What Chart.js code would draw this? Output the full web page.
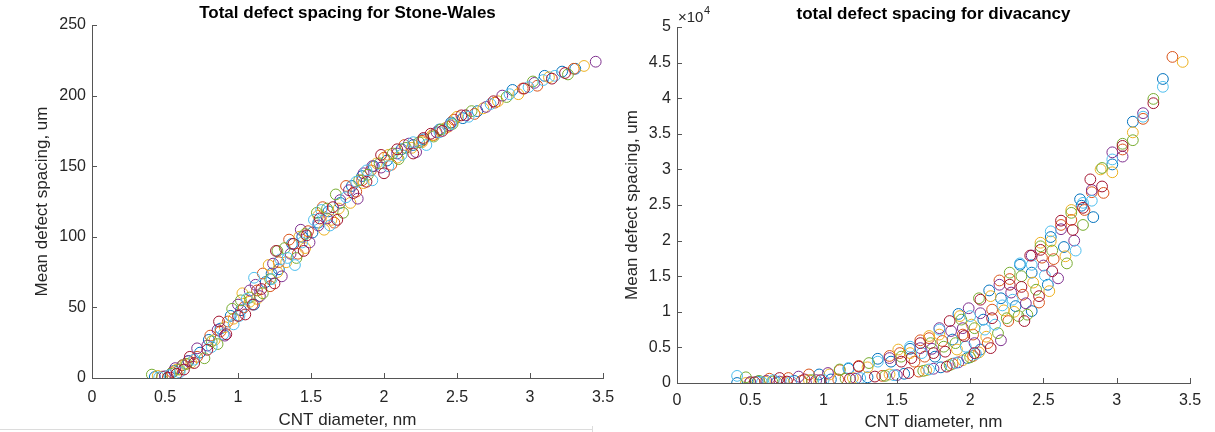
<!DOCTYPE html>
<html>
<head>
<meta charset="utf-8">
<title>Total defect spacing</title>
<script src="https://cdn.jsdelivr.net/npm/chart.js@4.4.0/dist/chart.umd.min.js"></script>
<style>
  html, body { margin: 0; padding: 0; background: #ffffff; }
  body { width: 1215px; height: 432px; position: relative; overflow: hidden; }
  canvas { position: absolute; top: 0; }
  #swChart { left: 0; }
  #dvChart { left: 590px; }
  .frame-h { position: absolute; left: 0; top: 429px; width: 592px; height: 0; border-top: 1px solid #dcdcdc; }
  .frame-v { position: absolute; left: 592px; top: 426px; width: 0; height: 6px; border-left: 1px solid #dcdcdc; }
</style>
</head>
<body>
<canvas id="swChart" width="640" height="432"></canvas>
<canvas id="dvChart" width="625" height="432"></canvas>
<div class="frame-h"></div>
<div class="frame-v"></div>
<script>
// ---- tick labels ----
const xTickLabels = ['0', '0.5', '1', '1.5', '2', '2.5', '3', '3.5'];
const swTickLabels = ['0', '50', '100', '150', '200', '250'];
const dvTickLabels = ['0', '0.5', '1', '1.5', '2', '2.5', '3', '3.5', '4', '4.5', '5'];

// ---- Stone-Wales: [diameter nm, mean spacing um] ----
const swBlue = [[0.43,0.7],[0.56,5],[0.62,9],[0.66,12],[0.74,18],[0.80,27],[0.88,35],[0.95,44],[1.02,48],[1.11,52],[1.19,68],[1.23,74],[1.28,77],[1.37,95],[1.44,100],[1.51,103],[1.55,110],[1.62,118],[1.70,124],[1.78,136],[1.85,143],[1.93,150],[2.02,154],[2.12,162],[2.20,165],[2.27,169],[2.38,176],[2.46,181],[2.54,184],[2.64,189],[2.88,204],[3.10,214],[3.22,217],[3.31,219]];
const swOrange = [[0.48,1],[0.55,4],[0.62,9],[0.72,15],[0.81,30],[0.88,33],[0.93,40],[1.04,50],[1.13,62],[1.17,74],[1.22,65],[1.28,82],[1.35,98],[1.41,88],[1.48,104],[1.58,121],[1.66,110],[1.74,136],[1.81,132],[1.85,140],[1.91,147],[2.00,156],[2.05,151],[2.14,165],[2.26,168],[2.34,172],[2.44,178],[2.48,183],[2.56,186],[2.62,187],[2.76,195],[2.95,205],[3.05,207],[3.30,219]];
const swYellow = [[0.45,1.5],[0.58,6],[0.64,10],[0.68,11],[0.84,27],[0.91,36],[0.97,42],[1.03,60],[1.08,54],[1.13,56],[1.21,80],[1.27,75],[1.33,82],[1.42,100],[1.46,92],[1.55,115],[1.59,105],[1.64,112],[1.69,120],[1.77,124],[1.86,138],[1.95,152],[2.03,158],[2.09,156],[2.19,163],[2.26,167],[2.33,172],[2.42,177],[2.50,185],[2.68,191],[2.78,196],[2.92,201],[3.13,213],[3.37,221]];
const swPurple = [[0.50,1.2],[0.57,7],[0.66,12],[0.72,21],[0.79,23],[0.86,34],[0.91,30],[1.00,52],[1.08,62],[1.12,66],[1.15,58],[1.24,81],[1.30,72],[1.36,88],[1.43,105],[1.49,96],[1.55,108],[1.61,113],[1.70,126],[1.76,133],[1.82,127],[1.86,145],[1.92,150],[1.98,149],[2.09,159],[2.17,166],[2.22,160],[2.36,174],[2.45,179],[2.56,186],[2.70,192],[2.81,200],[3.03,209],[3.45,224]];
const swGreen = [[0.41,2.4],[0.54,3],[0.60,6],[0.65,10],[0.77,14],[0.82,26],[0.86,24],[0.96,49],[1.02,55],[1.08,57],[1.17,60],[1.22,70],[1.27,90],[1.32,92],[1.40,85],[1.46,102],[1.54,117],[1.61,120],[1.67,130],[1.72,117],[1.83,140],[1.89,144],[1.97,152],[2.06,159],[2.10,155],[2.15,163],[2.24,167],[2.34,171],[2.39,176],[2.47,180],[2.60,189],[2.84,199],[3.02,210],[3.26,215]];
const swLightBlue = [[0.46,0.5],[0.53,2],[0.60,4],[0.70,13],[0.82,22],[0.90,31],[0.97,38],[1.01,44],[1.06,56],[1.11,71],[1.23,70],[1.29,84],[1.34,85],[1.39,80],[1.44,96],[1.52,112],[1.57,119],[1.63,108],[1.74,128],[1.81,139],[1.88,147],[1.92,140],[2.03,150],[2.12,158],[2.20,167],[2.29,165],[2.38,174],[2.46,180],[2.58,185],[2.73,194],[2.86,201],[2.99,206],[3.09,211],[3.17,214]];
const swDarkRed = [[0.52,0.3],[0.58,3],[0.63,6],[0.67,15],[0.70,10.6],[0.79,20],[0.87,40],[0.92,31],[1.00,44],[1.05,45],[1.10,52],[1.16,63],[1.26,90],[1.25,67],[1.38,95],[1.45,90],[1.47,101],[1.56,113],[1.65,121],[1.68,112],[1.79,131],[1.88,139],[1.98,158],[2.00,145],[2.09,162],[2.20,159],[2.27,170],[2.32,173],[2.40,175],[2.53,186],[2.75,196],[2.96,205],[3.15,212],[3.24,216]];

// ---- divacancy: [diameter nm, mean spacing um] ----
const dvBlue = [[0.41,0],[0.55,200],[0.68,100],[0.80,300],[0.97,1200],[1.05,500],[1.17,2000],[1.30,800],[1.37,3400],[1.46,3000],[1.55,1300],[1.59,4800],[1.76,3700],[1.80,2200],[1.88,6100],[1.92,9700],[1.98,3500],[2.07,4700],[2.09,8900],[2.13,13000],[2.21,11900],[2.31,10800],[2.34,16600],[2.42,10100],[2.42,15500],[2.53,13800],[2.55,20500],[2.64,19100],[2.75,25800],[2.76,24900],[2.84,23300],[2.97,30700],[3.11,36700],[3.315,42700]];
const dvOrange = [[0.50,100],[0.63,600],[0.76,700],[0.85,300],[0.90,1200],[1.10,500],[1.11,1800],[1.24,2400],[1.40,1000],[1.45,3800],[1.52,4200],[1.62,3000],[1.65,1600],[1.66,6000],[1.69,3700],[1.72,6300],[1.81,5900],[1.88,2700],[1.95,6800],[2.02,6800],[2.02,3800],[2.12,5600],[2.15,10300],[2.20,14400],[2.26,8700],[2.27,14600],[2.36,12400],[2.47,11300],[2.49,17600],[2.57,17400],[2.62,22200],[2.69,22900],[2.78,24300],[2.83,26800],[2.91,26700],[3.04,32800],[3.18,37100],[3.38,45800]];
const dvYellow = [[0.47,0],[0.60,200],[0.73,100],[0.90,400],[1.04,1200],[1.20,700],[1.30,2200],[1.45,1200],[1.51,4700],[1.59,4200],[1.70,1800],[1.72,6600],[1.79,6800],[1.91,4700],[1.93,9400],[1.95,3200],[2.01,8200],[2.06,4300],[2.11,6500],[2.14,12200],[2.23,10200],[2.30,10000],[2.43,14100],[2.48,19700],[2.54,12900],[2.55,19900],[2.65,17800],[2.69,24300],[2.89,30000],[2.97,29600],[3.11,35200],[3.45,45100]];
const dvPurple = [[0.50,100],[0.61,300],[0.70,200],[0.83,900],[0.95,400],[1.03,1400],[1.22,600],[1.45,3500],[1.50,1100],[1.66,4900],[1.74,4800],[1.75,2000],[1.79,7700],[1.87,7300],[1.92,2900],[1.95,7700],[1.99,10500],[2.03,5600],[2.07,9800],[2.20,13800],[2.21,6000],[2.28,12700],[2.38,11200],[2.42,17900],[2.50,16500],[2.60,14700],[2.62,21600],[2.71,20000],[2.83,27100],[2.97,32400],[3.04,31800],[3.18,37900]];
const dvGreen = [[0.47,800],[0.56,300],[0.65,200],[0.92,400],[1.11,1900],[1.15,600],[1.31,2800],[1.42,1000],[1.53,3700],[1.68,1700],[1.73,5600],[1.82,5100],[1.86,2500],[1.90,5600],[1.94,8900],[2.00,3600],[2.03,7700],[2.06,11900],[2.19,7000],[2.25,9100],[2.27,15500],[2.33,9400],[2.35,15000],[2.39,9600],[2.45,13100],[2.48,19200],[2.56,18600],[2.66,16800],[2.69,23900],[2.77,22200],[2.90,30200],[3.04,33600],[3.11,34100],[3.25,39900]];
const dvLightBlue = [[0.41,1000],[0.58,100],[0.66,400],[0.78,200],[1.00,400],[1.17,2100],[1.25,700],[1.37,3000],[1.48,1100],[1.59,5100],[1.67,4200],[1.72,1900],[1.79,7500],[1.90,2800],[1.97,5100],[2.00,9400],[2.04,4100],[2.10,7500],[2.17,8200],[2.22,10900],[2.29,11700],[2.34,16800],[2.42,16600],[2.51,15100],[2.55,21300],[2.72,18600],[2.77,25300],[2.83,25600],[2.97,31400],[3.18,37400],[3.315,41600]];
const dvDarkRed = [[0.53,100],[0.70,700],[0.75,200],[0.87,500],[0.98,400],[1.18,600],[1.24,2300],[1.35,900],[1.53,3000],[1.58,1400],[1.60,3500],[1.66,5600],[1.75,4200],[1.83,4400],[1.84,2300],[1.86,8700],[1.96,6600],[2.03,4200],[2.07,11700],[2.14,4900],[2.15,9100],[2.27,13800],[2.35,13500],[2.37,8700],[2.41,17900],[2.47,12200],[2.48,18700],[2.56,15700],[2.62,22800],[2.70,21500],[2.77,24600],[2.82,28600],[2.90,27600],[3.04,33300],[3.25,39300]];

// ---- styling ----
const palette = ['#0072BD', '#D95319', '#EDB120', '#7E2F8E', '#77AC30', '#4DBEEE', '#A2142F'];
const TEXT = '#262626';
const AXIS_LINE = '#555555';
const FONT = '"Liberation Sans", Arial, Helvetica, sans-serif';
Chart.defaults.font.family = FONT;

// tick marks pointing into the plot area
const inwardTicks = {
  id: 'inwardTicks',
  afterDraw(chart) {
    const { ctx, chartArea, scales } = chart;
    const len = 5;
    ctx.save();
    ctx.strokeStyle = AXIS_LINE;
    ctx.lineWidth = 1;
    scales.x.ticks.forEach((t, i) => {
      const px = Math.round(scales.x.getPixelForTick(i)) + 0.5;
      ctx.beginPath();
      ctx.moveTo(px, chartArea.bottom);
      ctx.lineTo(px, chartArea.bottom - len);
      ctx.stroke();
    });
    scales.y.ticks.forEach((t, i) => {
      const py = Math.round(scales.y.getPixelForTick(i)) + 0.5;
      ctx.beginPath();
      ctx.moveTo(chartArea.left, py);
      ctx.lineTo(chartArea.left + len, py);
      ctx.stroke();
    });
    ctx.restore();
  }
};

// "x10^4" multiplier above the divacancy y axis
const exponentLabel = {
  id: 'exponentLabel',
  afterDraw(chart) {
    const { ctx, chartArea } = chart;
    ctx.save();
    ctx.fillStyle = TEXT;
    ctx.textAlign = 'left';
    ctx.textBaseline = 'middle';
    ctx.font = '15px ' + FONT;
    const x0 = chartArea.left + 1;
    ctx.fillText('\u00d710', x0, 18);
    const w = ctx.measureText('\u00d710').width;
    ctx.font = '11px ' + FONT;
    ctx.fillText('4', x0 + w + 0.5, 11);
    ctx.restore();
  }
};

function makeChart(canvasId, cfg) {
  const datasets = cfg.series.map((pts, i) => ({
    data: pts.map(([x, y]) => ({ x, y })),
    borderColor: palette[i % palette.length],
    backgroundColor: 'rgba(0,0,0,0)',
    pointRadius: 5.4,
    pointHoverRadius: 5.4,
    pointBorderWidth: 1,
    order: -i
  }));
  return new Chart(document.getElementById(canvasId), {
    type: 'scatter',
    data: { datasets },
    options: {
      responsive: false,
      animation: false,
      events: [],
      layout: { padding: { left: 0, right: cfg.padRight, top: 0, bottom: 0 } },
      plugins: {
        legend: { display: false },
        tooltip: { enabled: false },
        title: {
          display: true,
          text: cfg.title,
          fullSize: false,
          color: '#000000',
          font: { size: 17, weight: 'bold', lineHeight: 1.2 },
          padding: { top: cfg.titleTop, bottom: cfg.titleBottom }
        }
      },
      scales: {
        x: {
          type: 'linear',
          min: 0,
          max: 3.5,
          afterFit: s => { s.height = cfg.xHeight; },
          ticks: {
            stepSize: 0.5,
            autoSkip: false,
            maxRotation: 0,
            padding: cfg.xTickPad,
            color: TEXT,
            font: { size: 16, lineHeight: 1.2 },
            callback: (v, i) => xTickLabels[i]
          },
          grid: { display: false, drawTicks: false },
          border: { display: true, color: AXIS_LINE, width: 1 },
          title: {
            display: true,
            text: 'CNT diameter, nm',
            color: TEXT,
            font: { size: 17, lineHeight: 1.1 },
            padding: { top: 0, bottom: cfg.xTitlePad }
          }
        },
        y: {
          type: 'linear',
          min: 0,
          max: cfg.yMax,
          afterFit: s => { s.width = cfg.yWidth; },
          ticks: {
            stepSize: cfg.yStep,
            autoSkip: false,
            padding: 6,
            color: TEXT,
            font: { size: 16, lineHeight: 1.2 },
            callback: (v, i) => cfg.yLabels[i]
          },
          grid: { display: false, drawTicks: false },
          border: { display: true, color: AXIS_LINE, width: 1 },
          title: {
            display: true,
            text: 'Mean defect spacing, um',
            color: TEXT,
            font: { size: 17, lineHeight: 1.1 },
            padding: { top: cfg.yTitlePad, bottom: 0 }
          }
        }
      }
    },
    plugins: [inwardTicks].concat(cfg.extraPlugins || [])
  });
}

makeChart('swChart', {
  title: 'Total defect spacing for Stone-Wales',
  series: [swBlue, swOrange, swYellow, swPurple, swGreen, swLightBlue, swDarkRed],
  yMax: 250, yStep: 50, yLabels: swTickLabels,
  padRight: 37, yWidth: 92, xHeight: 54,
  titleTop: 3, titleBottom: 1.6,
  xTickPad: 10, xTitlePad: 2, yTitlePad: 33
});

makeChart('dvChart', {
  title: 'total defect spacing for divacancy',
  series: [dvBlue, dvOrange, dvYellow, dvPurple, dvGreen, dvLightBlue, dvDarkRed],
  yMax: 50000, yStep: 5000, yLabels: dvTickLabels,
  padRight: 25, yWidth: 87, xHeight: 49,
  titleTop: 4.3, titleBottom: 2.3,
  xTickPad: 8, xTitlePad: 0, yTitlePad: 33,
  extraPlugins: [exponentLabel]
});
</script>
</body>
</html>
